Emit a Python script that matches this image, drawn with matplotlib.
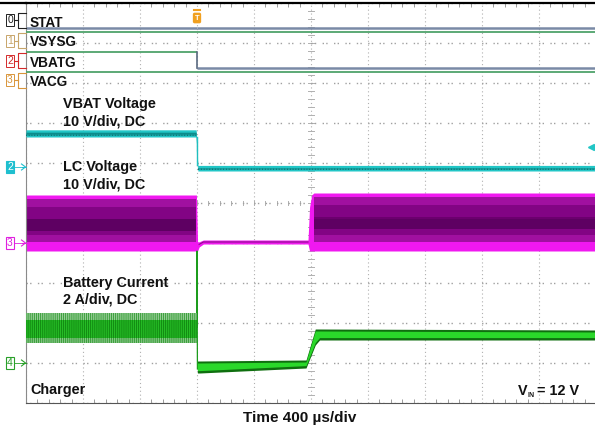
import numpy as np
import matplotlib.pyplot as plt
from matplotlib.lines import Line2D

plt.rcParams['font.family'] = ['Liberation Sans', 'DejaVu Sans']
plt.rcParams['hatch.linewidth'] = 0.6

W, H = 595, 429

# time base: 400 us/div, trigger at 0 us
t_min, t_max = -1200, 2800

# logic channels (0 = low, 1 = high)
dig_names = ['STAT', 'VSYSG', 'VBATG', 'VACG']
dig_marks = ['0', '1', '2', '3']
dig_colors = ['#202020', '#c8a56a', '#d42a2a', '#d9953a']
dig_t = [-1200, 0, 2800]
dig_states = [[0, 0], [1, 1], [1, 0], [1, 1]]

# VBAT (ch2, 10 V/div) envelope
vbat_t = [-1200, -6, 6, 2800]
vbat_top = [9.3, 9.3, 0.4, 0.4]
vbat_bot = [7.5, 7.5, -1.0, -1.0]

# LC switch node (ch3, 10 V/div) envelope
lc_t = [-1200, -4, 4, 15, 45, 779, 790, 805, 820, 2800]
lc_top = [12.0, 12.0, 0.3, 0.3, 0.75, 0.75, 9.0, 12.0, 12.5, 12.5]
lc_bot = [-2.0, -2.0, -2.0, -1.0, -0.25, -0.25, -2.0, -2.0, -2.0, -2.0]

# battery current (ch4, 2 A/div) envelope
ib_t = [-1200, -3, 3, 20, 765, 830, 860, 2800]
ib_top = [2.5, 2.5, 0.1, 0.1, 0.15, 1.7, 1.7, 1.65]
ib_bot = [1.0, 1.0, -0.5, -0.5, -0.25, 0.9, 1.15, 1.15]
spike_t = [-3, 0, 3]
spike_i = [1.8, 5.6, -0.3]

# channel offsets (div) and scales
ch2_off, ch2_scale = 5.9, 10.0
ch3_off, ch3_scale = 4.0, 10.0
ch4_off, ch4_scale = 1.0, 2.0


def to_div(v, off, scale):
    return off + np.asarray(v, dtype=float) / scale


def ftext(x, y, s, **kw):
    return fig.text(x / W, 1 - y / H, s, **kw)


def fline(xs, ys, **kw):
    fig.add_artist(Line2D([x / W for x in xs], [1 - y / H for y in ys],
                          transform=fig.transFigure, **kw))


fig = plt.figure(figsize=(W / 100, H / 100), dpi=100)
ax = fig.add_axes([26 / W, 26 / H, 570 / W, 400 / H])
ax.set_xlim(t_min, t_max)
ax.set_ylim(0, 10)

# graticule
ax.set_xticks(np.arange(t_min, t_max + 1, 400))
ax.set_yticks(np.arange(0, 11, 1))
ax.set_xticks(np.arange(t_min, t_max + 1, 80), minor=True)
ax.xaxis.grid(True, color='#b0b0b0', lw=0.8, ls=(0, (1, 2.5)))
ax.yaxis.grid(True, color='#a0a0a0', lw=1.0, ls=(0, (1, 1.6, 1, 4.6)))
ax.set_axisbelow(True)
ax.tick_params(which='both', labelbottom=False, labelleft=False, left=False,
               bottom=True, top=True, direction='in', color='#9a9a9a')
ax.tick_params(which='major', length=0)
ax.tick_params(which='minor', length=3, width=0.7)
ax.spines['right'].set_visible(False)
ax.spines['top'].set_color('black')
ax.spines['top'].set_linewidth(1.6)
ax.spines['left'].set_color('#8a8a8a')
ax.spines['bottom'].set_color('#555555')
fline([0, 26], [2.6, 2.6], color='black', lw=1.6)

# center cross ticks
for tt in np.arange(t_min, t_max + 1, 80):
    ax.plot([tt, tt], [4.94, 5.06], color='#b0b0b0', lw=0.7, zorder=0.5)
for yy in np.arange(0, 10.01, 0.2):
    ax.plot([780, 820], [yy, yy], color='#b0b0b0', lw=0.7, zorder=0.5)

# logic traces
for i, name in enumerate(dig_names):
    low = (403 - (28 + 20 * i)) / 40
    high = low + 0.4
    st = dig_states[i]
    for k in range(len(st)):
        lv = high if st[k] else low
        ax.plot([dig_t[k], dig_t[k + 1]], [lv, lv],
                color='#4fa36b' if st[k] else '#7a8aa6',
                lw=1.3 if st[k] else 1.8, zorder=3, solid_capstyle='butt')
        if k > 0 and st[k] != st[k - 1]:
            ax.plot([dig_t[k], dig_t[k]], [low, high], color='#5a6a80', lw=1.2, zorder=3)

# LC voltage
lt, ltop, lbot = np.array(lc_t), to_div(lc_top, ch3_off, ch3_scale), to_div(lc_bot, ch3_off, ch3_scale)
ax.fill_between(lt, lbot, ltop, color='#f018f0', lw=0, zorder=2)
for sel in [lt <= -4, lt >= 820]:
    x, b, t = lt[sel], lbot[sel], ltop[sel]
    ax.fill_between(x, b + 0.22, t - 0.1, color='#a010a0', lw=0, zorder=2.1)
    ax.fill_between(x, b + 0.4, t - 0.3, color='#820484', lw=0, zorder=2.2)
    ax.fill_between(x, b + 0.6, t - 0.6, color='#6c006e', lw=0, zorder=2.3)
    ax.fill_between(x, b + 0.8, t - 0.9, color='#5e0062', lw=0, zorder=2.4)
mid = (lt >= 15) & (lt <= 779)
ax.plot(lt[mid], (ltop[mid] + lbot[mid]) / 2, color='#8a108a', lw=0.8, zorder=2.5)

# VBAT voltage
vt, vtop, vbot = np.array(vbat_t), to_div(vbat_top, ch2_off, ch2_scale), to_div(vbat_bot, ch2_off, ch2_scale)
ax.fill_between(vt, vbot, vtop, color='#22c6c6', lw=0, zorder=4)
ax.fill_between(vt, vbot + 0.05, vtop - 0.06, color='#0c8c8c', lw=0, zorder=4.1)
ax.fill_between(vt, vbot + 0.025, vbot + 0.06, color='#1aa8a8', hatch='||||||',
                ec='#0b6e6e', lw=0, zorder=4.2)
ax.plot([0, 0], [vbot[1], vtop[2]], color='#22c6c6', lw=1, zorder=4)

# battery current
it, itop, ibot = np.array(ib_t), to_div(ib_top, ch4_off, ch4_scale), to_div(ib_bot, ch4_off, ch4_scale)
pre = it <= -3
post = it >= 3
ax.fill_between(it, ibot, itop, where=pre, color='#26bc26', hatch='||||||||',
                ec='#0e840e', lw=0, zorder=5)
ax.fill_between(it, itop - 0.17, itop, where=pre, color='#96cc96', hatch='||||||||',
                ec='#2f9a2f', lw=0, zorder=5.1)
ax.fill_between(it, ibot, ibot + 0.12, where=pre, color='#86c486', hatch='||||||||',
                ec='#2f9a2f', lw=0, zorder=5.1)
ax.fill_between(it, ibot, itop, where=post, color='#0f6f0f', lw=0, zorder=5)
ax.fill_between(it, ibot + 0.06, itop - 0.05, where=post, color='#2ad82a', lw=0, zorder=5.1)
ax.plot(spike_t, to_div(spike_i, ch4_off, ch4_scale), color='#1c9c1c', lw=0.9, zorder=5)

# labels
lab = dict(fontweight='bold', color='#111111', ha='left', va='baseline')
for i, name in enumerate(dig_names):
    ftext(29.5, 27 + [0, 19, 40, 59][i], name, fontsize=9.8, **lab)
ftext(63, 108, 'VBAT Voltage', fontsize=10.4, **lab)
ftext(63, 125, '10 V/div, DC', fontsize=10.4, **lab)
ftext(63, 171, 'LC Voltage', fontsize=10.4, **lab)
ftext(63, 188, '10 V/div, DC', fontsize=10.4, **lab)
ftext(63, 287, 'Battery Current', fontsize=10.4, **lab)
ftext(63, 304, '2 A/div, DC', fontsize=10.4, **lab)
ftext(30, 394, 'Charger', fontsize=10.4, **lab)
ftext(518, 395, 'V', fontsize=10.4, **lab)
ftext(528, 397, 'IN', fontsize=5, **lab)
ftext(537, 395, '= 12 V', fontsize=10.4, **lab)
ftext(300, 422, 'Time 400 \u00b5s/div', fontsize=11, fontweight='bold', color='#111111',
      ha='center', va='baseline')

# channel markers
for i, m in enumerate(dig_marks):
    yc = [20, 41, 61, 80][i]
    ftext(10, yc, m, fontsize=7.5, color=dig_colors[i], ha='center', va='center',
          bbox=dict(boxstyle='square,pad=0.1', fc='white', ec=dig_colors[i], lw=0.7))
    yh, yl = 13 + 20 * i, 28 + 20 * i
    fline([25.5, 18, 18, 25.5], [yh, yh, yl, yl], color=dig_colors[i], lw=0.8)
    fline([14, 18], [yc, yc], color=dig_colors[i], lw=0.8)

ana = [('2', 167, '#1fbfcf', True), ('3', 243, '#e020e0', False), ('4', 363, '#2aa02a', False)]
for m, yc, c, filled in ana:
    ftext(10, yc, m, fontsize=7.5, color='white' if filled else c, ha='center', va='center',
          bbox=dict(boxstyle='square,pad=0.1', fc=c if filled else 'white', ec=c, lw=0.8))
    fline([14, 21.5, 25.5, 21.5], [yc, yc, yc, yc], color=c, lw=0.6)
    fline([21.5, 25.5, 21.5], [yc - 3, yc, yc + 3], color=c, lw=0.8)

# trigger marker and offscreen marker
ftext(197, 18, 'T', fontsize=5.5, fontweight='bold', color='white', ha='center', va='center',
      bbox=dict(boxstyle='round,pad=0.15', fc='#f0a020', ec='#f0a020'))
fline([194, 200], [9.5, 9.5], color='#f0a020', lw=1.5)
fig.add_artist(Line2D([591 / W], [1 - 147 / H], marker='<', color='#22c6c6', ms=4,
                      transform=fig.transFigure))

fig.savefig('out.png', dpi=100)
